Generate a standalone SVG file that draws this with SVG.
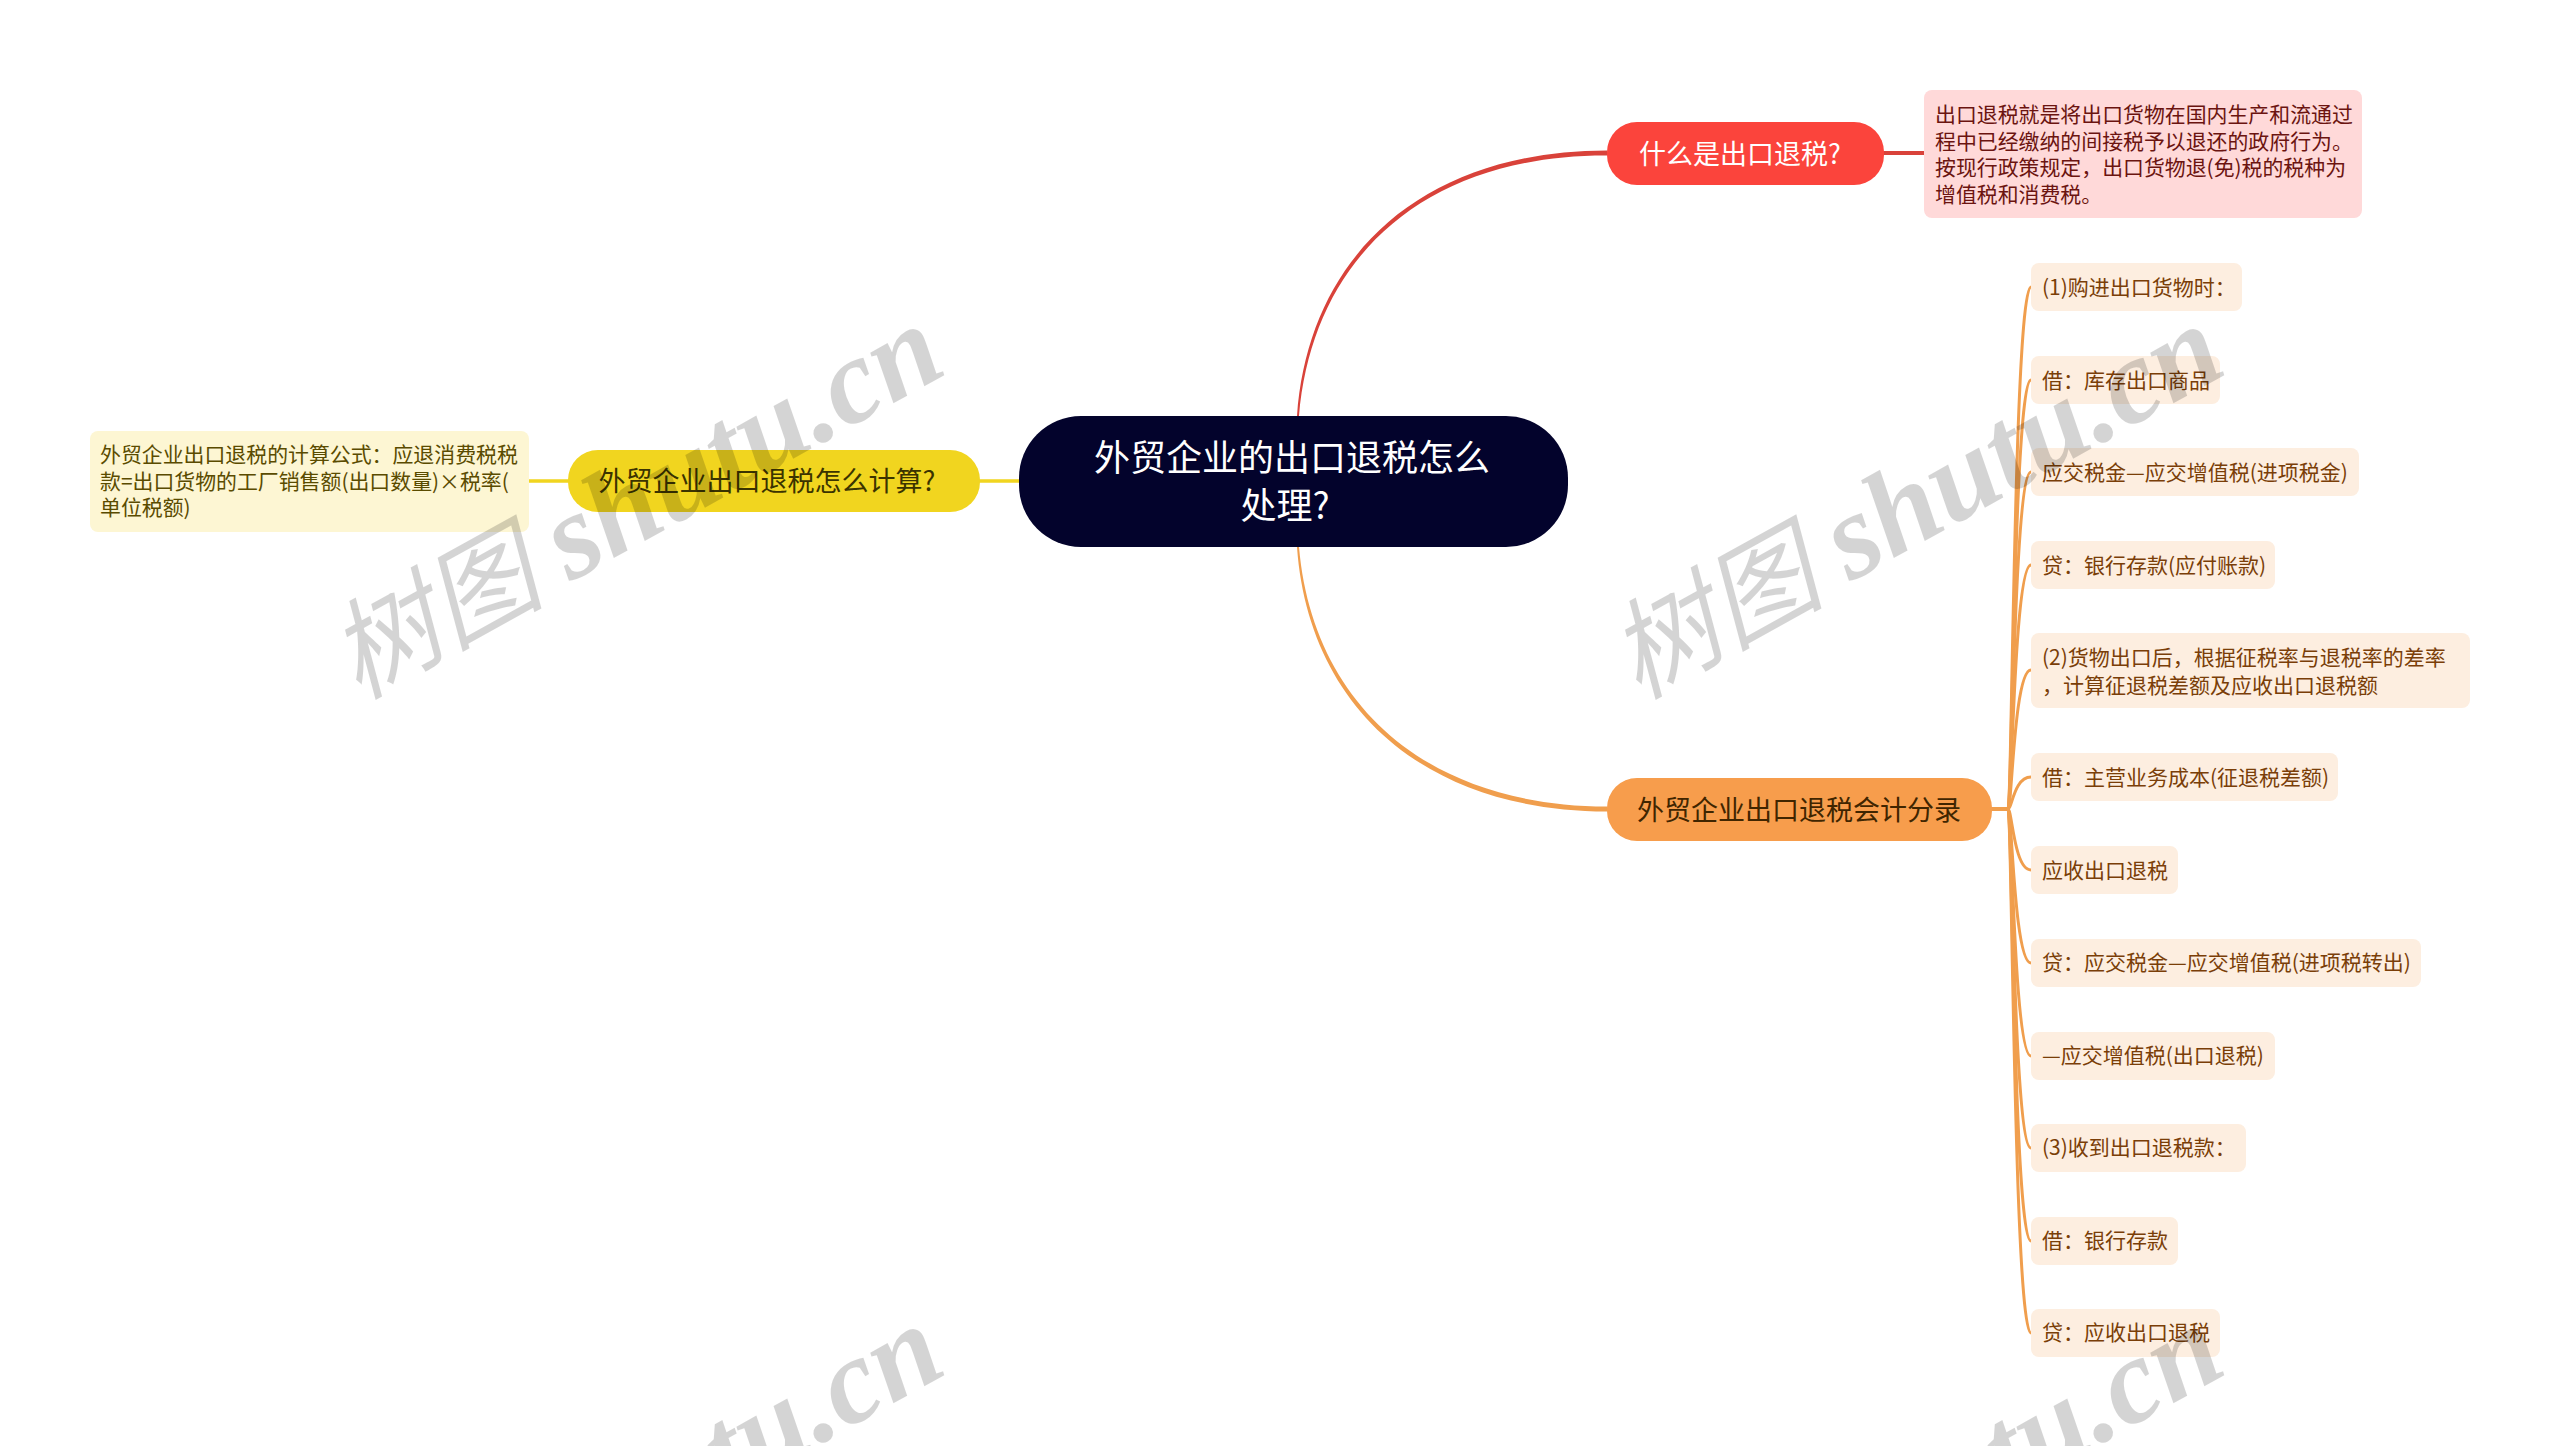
<svg xmlns="http://www.w3.org/2000/svg" width="2560" height="1446" viewBox="0 0 2560 1446">
<style>
text{font-family:"Noto Sans CJK SC","Noto Sans",sans-serif}
.leaf rect{fill:#fdeee0}
.leaf text{font-size:21px;fill:#7a3e08}
.c{fill:none;stroke-linecap:round}
.o{fill:none;stroke:#f09e4d;stroke-width:3;stroke-linecap:round}
.m{font-size:27px}
.wm{font-family:"Liberation Serif","Noto Sans CJK SC",serif;font-style:italic;font-size:108px;fill:#000;fill-opacity:.17}
.wm tspan{font-weight:bold;font-size:121px}
</style>
<rect width="2560" height="1446" fill="#fff"/>
<g id="connectors">
<path fill="#d9423a" d="M1297 416C1308 259 1419 151 1607 150.5V155.5C1421 155 1312 261 1299 416Z"/>
<path class="c" stroke="#d9423a" stroke-width="4" d="M1884 153H1924"/>
<path fill="#f09e4d" d="M1299 547C1312 699 1421 806 1607 806.5V811.5C1419 811 1308 702 1297 547Z"/>
<path class="c" stroke="#f1d51f" stroke-width="3.5" d="M980 481H1019"/>
<path class="c" stroke="#f1d51f" stroke-width="3.5" d="M529 481H568"/>
<path class="c" stroke="#f09e4d" stroke-width="4" d="M1992 809H2008"/>
<path class="o" d="M2008 809C2012 809 2014 287 2031 287"/>
<path class="o" d="M2008 809C2012 809 2014 380 2031 380"/>
<path class="o" d="M2008 809C2012 809 2014 472 2031 472"/>
<path class="o" d="M2008 809C2012 809 2014 565 2031 565"/>
<path class="o" d="M2008 809C2012 809 2014 670 2031 670"/>
<path class="o" d="M2008 809C2012 809 2014 777 2031 777"/>
<path class="o" d="M2008 809C2012 809 2014 870 2031 870"/>
<path class="o" d="M2008 809C2012 809 2014 963 2031 963"/>
<path class="o" d="M2008 809C2012 809 2014 1056 2031 1056"/>
<path class="o" d="M2008 809C2012 809 2014 1148 2031 1148"/>
<path class="o" d="M2008 809C2012 809 2014 1241 2031 1241"/>
<path class="o" d="M2008 809C2012 809 2014 1333 2031 1333"/>
</g>
<g id="root"><rect x="1019" y="416" width="549" height="131" rx="62" fill="#03032c"/>
<text x="1292" y="471" font-size="36" fill="#fff" text-anchor="middle">外贸企业的出口退税怎么</text>
<text x="1285" y="519" font-size="36" fill="#fff" text-anchor="middle">处理?</text></g>
<g id="n-red"><rect x="1607" y="122" width="277" height="63" rx="30" fill="#fb443c"/>
<text class="m" x="1740" y="164" fill="#fff" text-anchor="middle">什么是出口退税?</text></g>
<g id="n-red-note"><rect x="1924" y="90" width="438" height="128" rx="8" fill="#ffd9d9"/>
<g font-size="20.9" fill="#6b1410"><text x="1935" y="122">出口退税就是将出口货物在国内生产和流通过</text>
<text x="1935" y="149">程中已经缴纳的间接税予以退还的政府行为。</text>
<text x="1935" y="175">按现行政策规定，出口货物退(免)税的税种为</text>
<text x="1935" y="202">增值税和消费税。</text></g></g>
<g id="n-yellow"><rect x="568" y="450" width="412" height="62" rx="30" fill="#f1d51f"/>
<text class="m" x="767" y="491" fill="#3b3300" text-anchor="middle">外贸企业出口退税怎么计算?</text></g>
<g id="n-yellow-note"><rect x="90" y="431" width="439" height="101" rx="8" fill="#fdf6d3"/>
<g font-size="20.9" fill="#5a4b00"><text x="100" y="462">外贸企业出口退税的计算公式：应退消费税税</text>
<text x="100" y="489">款=出口货物的工厂销售额(出口数量)×税率(</text>
<text x="100" y="515">单位税额)</text></g></g>
<g id="n-orange"><rect x="1607" y="778" width="385" height="63" rx="30" fill="#f79d4c"/>
<text class="m" x="1799" y="820" fill="#402500" text-anchor="middle">外贸企业出口退税会计分录</text></g>
<g id="l1" class="leaf"><rect x="2031" y="263" width="211" height="48" rx="8"/><text x="2042" y="295">(1)购进出口货物时：</text></g>
<g id="l2" class="leaf"><rect x="2031" y="356" width="189" height="48" rx="8"/><text x="2042" y="388">借：库存出口商品</text></g>
<g id="l3" class="leaf"><rect x="2031" y="448" width="328" height="48" rx="8"/><text x="2042" y="480">应交税金—应交增值税(进项税金)</text></g>
<g id="l4" class="leaf"><rect x="2031" y="541" width="244" height="48" rx="8"/><text x="2042" y="573">贷：银行存款(应付账款)</text></g>
<g id="l5" class="leaf"><rect x="2031" y="633" width="439" height="75" rx="8"/><text x="2042" y="665">(2)货物出口后，根据征税率与退税率的差率</text><text x="2042" y="693">，计算征退税差额及应收出口退税额</text></g>
<g id="l6" class="leaf"><rect x="2031" y="753" width="307" height="48" rx="8"/><text x="2042" y="785">借：主营业务成本(征退税差额)</text></g>
<g id="l7" class="leaf"><rect x="2031" y="846" width="147" height="48" rx="8"/><text x="2042" y="878">应收出口退税</text></g>
<g id="l8" class="leaf"><rect x="2031" y="939" width="390" height="48" rx="8"/><text x="2042" y="970">贷：应交税金—应交增值税(进项税转出)</text></g>
<g id="l9" class="leaf"><rect x="2031" y="1032" width="244" height="48" rx="8"/><text x="2042" y="1063">—应交增值税(出口退税)</text></g>
<g id="l10" class="leaf"><rect x="2031" y="1124" width="215" height="48" rx="8"/><text x="2042" y="1155">(3)收到出口退税款：</text></g>
<g id="l11" class="leaf"><rect x="2031" y="1217" width="147" height="48" rx="8"/><text x="2042" y="1248">借：银行存款</text></g>
<g id="l12" class="leaf"><rect x="2031" y="1309" width="189" height="48" rx="8"/><text x="2042" y="1340">贷：应收出口退税</text></g>
<g id="watermark">
<text class="wm" transform="translate(358 700) rotate(-29)">树图 <tspan>shutu.cn</tspan></text>
<text class="wm" transform="translate(1638 700) rotate(-29)">树图 <tspan>shutu.cn</tspan></text>
<text class="wm" transform="translate(358 1700) rotate(-29)">树图 <tspan>shutu.cn</tspan></text>
<text class="wm" transform="translate(1638 1700) rotate(-29)">树图 <tspan>shutu.cn</tspan></text>
</g>
</svg>
